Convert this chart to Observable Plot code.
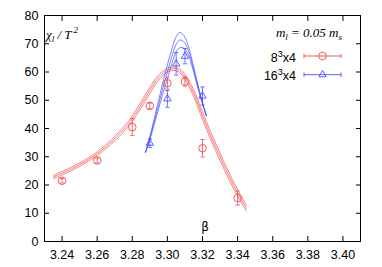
<!DOCTYPE html>
<html><head><meta charset="utf-8">
<script src="https://cdn.jsdelivr.net/npm/d3@7"></script>
<script src="https://cdn.jsdelivr.net/npm/@observablehq/plot@0.6"></script>
<style>
body{margin:0;background:#fff}
#chart{position:relative;width:382px;height:267px}
</style>
</head><body><div id="chart"></div>
<script>
// ---- data ----
const xTicks = [3.24, 3.26, 3.28, 3.30, 3.32, 3.34, 3.36, 3.38, 3.40];
const yTicks = [0, 10, 20, 30, 40, 50, 60, 70, 80];

// 8^3x4 data points
const beta8 = [3.24, 3.26, 3.28, 3.29, 3.30, 3.31, 3.32, 3.34];
const chi8  = [21.5, 28.7, 40.5, 48.0, 56.0, 56.6, 33.0, 15.4];
const err8  = [0.8, 0.9, 3.0, 1.0, 2.0, 1.6, 3.1, 2.5];

// 16^3x4 data points
const beta16 = [3.29, 3.30, 3.305, 3.31, 3.32];
const chi16  = [34.8, 50.5, 62.9, 65.6, 51.5];
const err16  = [1.5, 3.0, 4.0, 2.7, 3.2];

// 8^3x4 reweighting band (upper / central / lower)
const curve8Beta = [3.235, 3.245, 3.255, 3.265, 3.275, 3.28, 3.285, 3.29, 3.295, 3.30, 3.3035, 3.307, 3.31, 3.315, 3.32, 3.325, 3.33, 3.335, 3.34, 3.345];
const curve8Hi   = [23.4, 26.2, 29.6, 34.3, 40.5, 44.5, 49.4, 54.6, 58.9, 61.3, 61.8, 61.1, 59.2, 53.7, 45.8, 38.3, 31.3, 24.5, 18.3, 12.8];
const curve8Mid  = [22.8, 25.6, 29.0, 33.6, 39.6, 43.5, 48.3, 53.5, 58.0, 60.6, 61.2, 60.4, 58.3, 52.5, 44.5, 37.0, 30.0, 23.3, 17.2, 11.8];
const curve8Lo   = [22.2, 25.0, 28.4, 32.9, 38.7, 42.5, 47.2, 52.4, 57.1, 59.9, 60.6, 59.7, 57.4, 51.3, 43.2, 35.7, 28.7, 22.1, 16.1, 10.8];

// 16^3x4 reweighting curves (upper / central / lower)
const curve16Beta = [3.2875, 3.29, 3.2925, 3.295, 3.2975, 3.30, 3.3025, 3.305, 3.307, 3.3095, 3.312, 3.3145, 3.317, 3.3195, 3.3222];
const curve16Hi   = [31.5, 37.0, 43.5, 50.0, 56.5, 62.5, 68.0, 72.5, 74.0, 72.8, 69.0, 63.0, 56.5, 50.3, 44.5];
const curve16Mid  = [31.5, 36.5, 42.5, 48.5, 54.5, 60.0, 65.5, 69.8, 71.3, 70.6, 67.5, 62.0, 55.8, 50.0, 44.5];
const curve16Lo   = [31.5, 36.0, 41.5, 47.0, 52.5, 57.5, 63.0, 67.2, 68.6, 68.4, 66.0, 61.0, 55.2, 49.6, 44.5];

// ---- tables ----
const pts8 = beta8.map((b, i) => ({b, v: chi8[i], e: err8[i]}));
const pts16 = beta16.map((b, i) => ({b, v: chi16[i], e: err16[i]}));
const band8 = curve8Beta.flatMap((b, i) => [
  {b, v: curve8Hi[i], k: "hi"}, {b, v: curve8Mid[i], k: "mid"}, {b, v: curve8Lo[i], k: "lo"}]);
const band16 = curve16Beta.flatMap((b, i) => [
  {b, v: curve16Hi[i], k: "hi"}, {b, v: curve16Mid[i], k: "mid"}, {b, v: curve16Lo[i], k: "lo"}]);

const RED = "#f24a4a", BLUE = "#4b4bff";
const cap = {draw(ctx, size) { const w = Math.sqrt(size / Math.PI); ctx.moveTo(-w, 0); ctx.lineTo(w, 0); }};

function errMarks(pts, color, symbolOpts) {
  return [
    Plot.ruleX(pts, {x: "b", y1: d => d.v - d.e, y2: d => d.v + d.e, stroke: color, strokeWidth: 0.8}),
    Plot.dot(pts, {x: "b", y: d => d.v - d.e, symbol: cap, r: 2.2, stroke: color, strokeWidth: 0.8}),
    Plot.dot(pts, {x: "b", y: d => d.v + d.e, symbol: cap, r: 2.2, stroke: color, strokeWidth: 0.8}),
    Plot.dot(pts, {x: "b", y: "v", fill: "none", stroke: color, strokeWidth: 0.9, ...symbolOpts})
  ];
}

const chart = Plot.plot({
  width: 382, height: 267,
  marginLeft: 44, marginRight: 22, marginTop: 15, marginBottom: 26,
  x: {domain: [3.23, 3.41]},
  y: {domain: [0, 80]},
  style: {fontFamily: "'Liberation Sans', Arial, sans-serif", fontSize: "12.5px", color: "black", background: "white"},
  marks: [
    Plot.line(band8, {x: "b", y: "v", z: "k", stroke: RED, strokeWidth: 0.7, curve: "catmull-rom"}),
    Plot.line(band16, {x: "b", y: "v", z: "k", stroke: BLUE, strokeWidth: 0.7, curve: "catmull-rom"}),
    ...errMarks(pts8, RED, {symbol: "circle", r: 3.8}),
    ...errMarks(pts16, BLUE, {symbol: "triangle2", r: 3.5}),
    Plot.axisX(xTicks, {tickSize: 0, tickPadding: 9, tickFormat: d => d.toFixed(2), label: null}),
    Plot.axisX(xTicks, {anchor: "bottom", tickSize: -5, fill: "none", label: null}),
    Plot.axisX(xTicks, {anchor: "top", tickSize: -5, fill: "none", label: null}),
    Plot.axisY(yTicks, {tickSize: 0, tickPadding: 6, label: null}),
    Plot.axisY(yTicks, {anchor: "left", tickSize: -5, fill: "none", label: null}),
    Plot.axisY(yTicks, {anchor: "right", tickSize: -5, fill: "none", label: null}),
    Plot.frame({stroke: "black", strokeWidth: 1})
  ]
});
document.getElementById("chart").appendChild(chart);

// ---- annotations (labels and legend) ----
const svg = d3.select(chart);
const SERIF = "'Liberation Serif', 'Times New Roman', serif";

const yl = svg.append("text").attr("x", 62).attr("y", 39)
  .attr("font-family", SERIF).attr("font-size", 13).attr("font-style", "italic").attr("fill", "black");
yl.append("tspan").text("χ");
yl.append("tspan").attr("font-size", 9).attr("dy", 3).text("l");
yl.append("tspan").attr("dy", -3).text(" / T");
yl.append("tspan").attr("font-size", 9).attr("dy", -6).attr("dx", 2).text("2");

svg.append("text").attr("x", 205).attr("y", 231).attr("text-anchor", "middle")
  .attr("font-family", "'DejaVu Sans', sans-serif").attr("font-size", 12).attr("fill", "black").text("β");

const lt = svg.append("text").attr("x", 342).attr("y", 37).attr("text-anchor", "end")
  .attr("font-family", SERIF).attr("font-size", 13).attr("font-style", "italic").attr("fill", "black");
lt.append("tspan").text("m");
lt.append("tspan").attr("font-size", 9).attr("dy", 3).text("l");
lt.append("tspan").attr("dy", -3).text(" = 0.05 m");
lt.append("tspan").attr("font-size", 9).attr("dy", 3).text("s");

const entries = [
  {base: "8", tail: "x4", color: RED, sym: d3.symbolCircle, y: 56},
  {base: "16", tail: "x4", color: BLUE, sym: d3.symbolTriangle2, y: 74.7}
];
for (const e of entries) {
  const t = svg.append("text").attr("x", 296).attr("y", e.y + 5.5).attr("text-anchor", "end")
    .attr("font-family", "'Liberation Sans', Arial, sans-serif").attr("font-size", 12.5).attr("fill", "black");
  t.append("tspan").text(e.base);
  t.append("tspan").attr("font-size", 9).attr("dy", -5).text("3");
  t.append("tspan").attr("dy", 5).text(e.tail);
  const g = svg.append("g").attr("stroke", e.color).attr("fill", "none").attr("stroke-width", 0.9);
  g.append("line").attr("x1", 304).attr("x2", 341).attr("y1", e.y).attr("y2", e.y);
  g.append("line").attr("x1", 304).attr("x2", 304).attr("y1", e.y - 2.2).attr("y2", e.y + 2.2);
  g.append("line").attr("x1", 341).attr("x2", 341).attr("y1", e.y - 2.2).attr("y2", e.y + 2.2);
  g.append("path").attr("transform", `translate(322.5,${e.y})`)
    .attr("d", d3.symbol(e.sym, e.sym === d3.symbolCircle ? Math.PI * 3.8 * 3.8 : Math.PI * 3.5 * 3.5)());
}
</script></body></html>
